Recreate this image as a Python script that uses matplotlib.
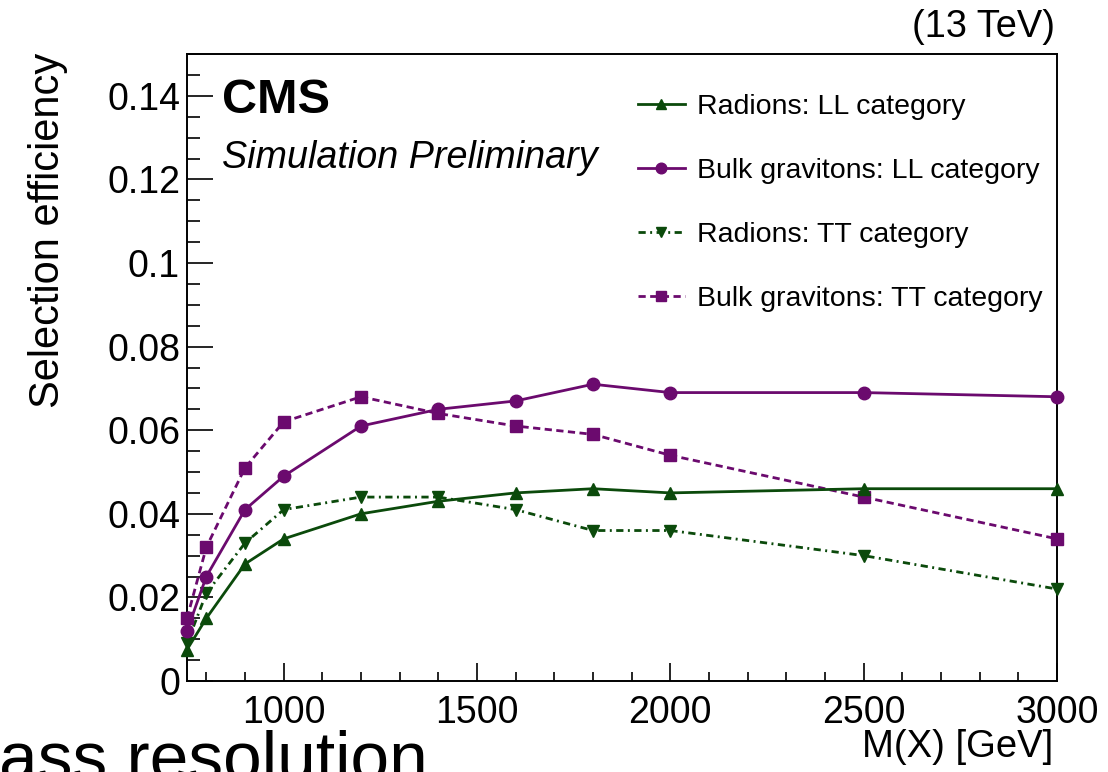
import numpy as np
import matplotlib.pyplot as plt
from matplotlib.ticker import MultipleLocator, FuncFormatter

plt.rcParams['font.family'] = ['Liberation Sans', 'DejaVu Sans']

# Resonance mass points [GeV]
mass = [750, 800, 900, 1000, 1200, 1400, 1600, 1800, 2000, 2500, 3000]

# Selection efficiencies per signal hypothesis and category
radion_ll = [0.0075, 0.015, 0.028, 0.034, 0.040, 0.043, 0.045, 0.046, 0.045, 0.046, 0.046]
graviton_ll = [0.012, 0.025, 0.041, 0.049, 0.061, 0.065, 0.067, 0.071, 0.069, 0.069, 0.068]
radion_tt = [0.009, 0.021, 0.033, 0.041, 0.044, 0.044, 0.041, 0.036, 0.036, 0.030, 0.022]
graviton_tt = [0.015, 0.032, 0.051, 0.062, 0.068, 0.064, 0.061, 0.059, 0.054, 0.044, 0.034]

labels = ["Radions: LL category", "Bulk gravitons: LL category",
          "Radions: TT category", "Bulk gravitons: TT category"]

green = "#0b4a0b"
purple = "#6b0a6e"

W, H = 1108, 772
fig = plt.figure(figsize=(W / 100, H / 100), dpi=100)
ax = fig.add_axes([187 / W, 1 - 681 / H, (1057 - 187) / W, (681 - 54) / H])

lw = 2.0
ax.plot(mass, radion_ll, color=green, lw=lw, marker="^", ms=9, label=labels[0], clip_on=False, zorder=4)
ax.plot(mass, graviton_ll, color=purple, lw=lw, marker="o", ms=9, label=labels[1], clip_on=False, zorder=4)
ax.plot(mass, radion_tt, color=green, lw=lw, marker="v", ms=9, dashes=(2.6, 1.6, 0.7, 1.6),
        label=labels[2], clip_on=False, zorder=3)
ax.plot(mass, graviton_tt, color=purple, lw=lw, marker="s", ms=8, dashes=(2.6, 1.6),
        label=labels[3], clip_on=False, zorder=3)

ax.set_xlim(750, 3000)
ax.set_ylim(0, 0.15)

ax.xaxis.set_major_locator(MultipleLocator(500))
ax.xaxis.set_minor_locator(MultipleLocator(100))
ax.yaxis.set_major_locator(MultipleLocator(0.02))
ax.yaxis.set_minor_locator(MultipleLocator(0.005))
ax.yaxis.set_major_formatter(FuncFormatter(lambda v, p: "%g" % round(v, 3)))

ax.tick_params(axis="both", which="both", direction="in", top=False, right=False,
               width=1.2, labelsize=27)
ax.tick_params(axis="y", which="major", length=19, pad=5)
ax.tick_params(axis="y", which="minor", length=9.5)
ax.tick_params(axis="x", which="major", length=13, pad=10)
ax.tick_params(axis="x", which="minor", length=6.5)
for s in ax.spines.values():
    s.set_linewidth(1.4)

leg = ax.legend(loc="upper left", bbox_to_anchor=(638 / W, 1 - 94 / H),
                bbox_transform=fig.transFigure, frameon=False, fontsize=20.5,
                handlelength=1.65, handletextpad=0.42, labelspacing=1.34,
                borderpad=0, borderaxespad=0, numpoints=1, markerscale=0.85)

fig.text(222 / W, 1 - 113 / H, "CMS", fontsize=35, fontweight="bold", va="baseline")
fig.text(222 / W, 1 - 168 / H, "Simulation Preliminary", fontsize=27.2, style="italic", va="baseline")
fig.text(1055 / W, 1 - 37 / H, "(13 TeV)", fontsize=27.4, ha="right", va="baseline")
fig.text(1053 / W, 1 - 757 / H, "M(X) [GeV]", fontsize=27.5, ha="right", va="baseline")
fig.text(28 / W, 1 - 53 / H, "Selection efficiency", fontsize=30, rotation=90, ha="left", va="top")
fig.text(428 / W, 1 - 779 / H, "Mass resolution", fontsize=50, ha="right", va="baseline")

fig.savefig("out.png", dpi=100)
